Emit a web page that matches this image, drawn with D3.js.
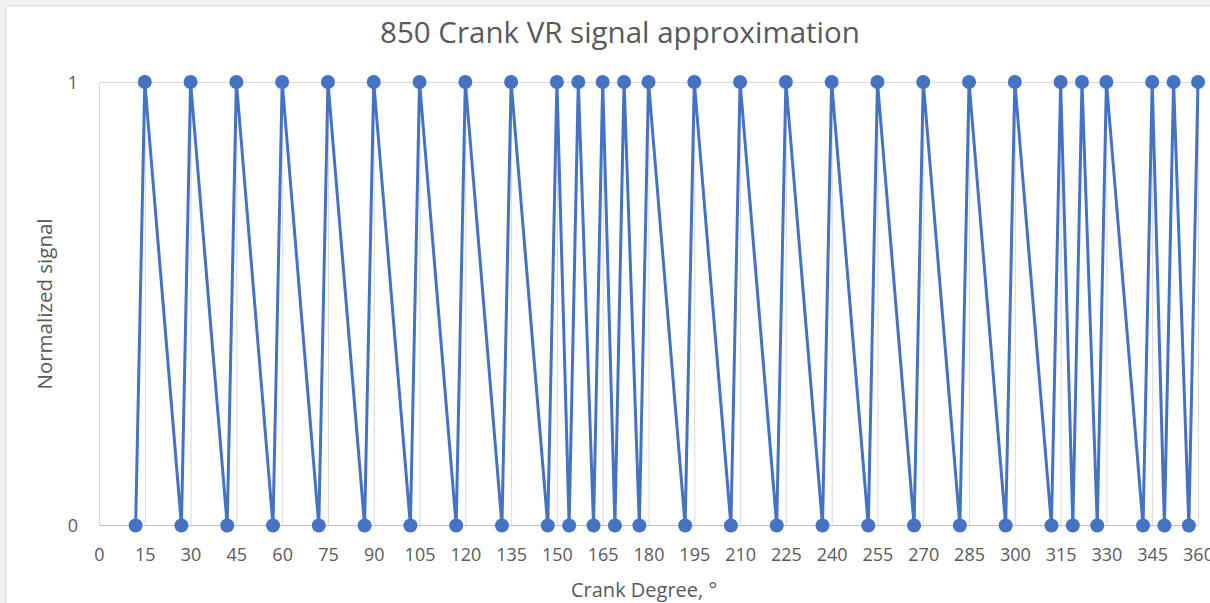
<!DOCTYPE html>
<html><head><meta charset="utf-8">
<script src="https://cdn.jsdelivr.net/npm/d3@7"></script>
<style>html,body{margin:0;padding:0;background:#f2f2f2;}svg{display:block;}</style>
</head><body>
<svg id="c" width="1210" height="603"></svg>
<script>
const title = "850 Crank VR signal approximation";
const xTitle = "Crank Degree, °";
const yTitle = "Normalized signal";
const degrees = [12,15,27,30,42,45,57,60,72,75,87,90,102,105,117,120,132,135,147,150,154,157,162,165,169,172,177,180,192,195,207,210,222,225,237,240,252,255,267,270,282,285,297,300,312,315,319,322,327,330,342,345,349,352,357,360];
const signal  = [0,1,0,1,0,1,0,1,0,1,0,1,0,1,0,1,0,1,0,1,0,1,0,1,0,1,0,1,0,1,0,1,0,1,0,1,0,1,0,1,0,1,0,1,0,1,0,1,0,1,0,1,0,1,0,1];
const xTicks = [0,15,30,45,60,75,90,105,120,135,150,165,180,195,210,225,240,255,270,285,300,315,330,345,360];
const yTicks = [0,1];

const svg = d3.select("#c");
svg.append("rect").attr("x",6).attr("y",6).attr("width",1210).attr("height",603).attr("fill","#fff").attr("stroke","#d9d9d9");

const x = d3.scaleLinear().domain([0,360]).range([99,1198]);
const y = d3.scaleLinear().domain([0,1]).range([525.5,82]);
const font = "'Open Sans', sans-serif";

// vertical gridlines
svg.append("g")
  .attr("transform",`translate(0,${y(0)})`)
  .call(d3.axisBottom(x).tickValues(xTicks).tickSize(-(y(0)-y(1))).tickFormat(""))
  .call(g=>{g.select(".domain").remove();g.selectAll("line").attr("stroke","#d9d9d9").attr("stroke-width",1);});
// horizontal gridline at 1
svg.append("g").attr("transform",`translate(${x(0)},0)`)
  .call(d3.axisLeft(y).tickValues([1]).tickSize(-(x(360)-x(0))).tickFormat(""))
  .call(g=>{g.select(".domain").remove();g.selectAll("line").attr("stroke","#d9d9d9").attr("stroke-width",1);});
// x axis line
svg.append("line").attr("x1",x(0)).attr("x2",x(360)).attr("y1",y(0)).attr("y2",y(0)).attr("stroke","#bfbfbf").attr("stroke-width",1);

// x tick labels
svg.append("g").attr("transform",`translate(0,${y(0)})`)
  .call(d3.axisBottom(x).tickValues(xTicks).tickSize(0).tickPadding(0))
  .call(g=>{g.select(".domain").remove();
    g.selectAll("text").attr("dy",null).attr("y",35.5).attr("fill","#595959").style("font-family",font).style("font-size","18px");});
// y tick labels
svg.append("g").attr("transform",`translate(78,0)`)
  .call(d3.axisLeft(y).tickValues(yTicks).tickSize(0).tickPadding(0).tickFormat(d3.format("d")))
  .call(g=>{g.select(".domain").remove();
    g.selectAll("text").attr("dy","0.35em").attr("fill","#595959").style("font-family",font).style("font-size","18px");});

// line
const pts = degrees.map((d,i)=>[d,signal[i]]);
svg.append("path").datum(pts)
  .attr("d", d3.line().x(d=>x(d[0])).y(d=>y(d[1])))
  .attr("fill","none").attr("stroke","#4472C4").attr("stroke-width",3).attr("stroke-linejoin","round");
svg.append("g").selectAll("circle").data(pts).join("circle")
  .attr("cx",d=>x(d[0])).attr("cy",d=>y(d[1])).attr("r",7).attr("fill","#4472C4");

// titles
svg.append("text").attr("x",620).attr("y",43).attr("text-anchor","middle").attr("fill","#595959")
  .style("font-family",font).style("font-size","29.5px").text(title);
svg.append("text").attr("x",644).attr("y",597).attr("text-anchor","middle").attr("fill","#595959")
  .style("font-family",font).style("font-size","20px").text(xTitle);
svg.append("text").attr("transform","translate(52,304) rotate(-90)").attr("text-anchor","middle").attr("fill","#595959")
  .style("font-family",font).style("font-size","20.5px").text(yTitle);
</script>
</body></html>
